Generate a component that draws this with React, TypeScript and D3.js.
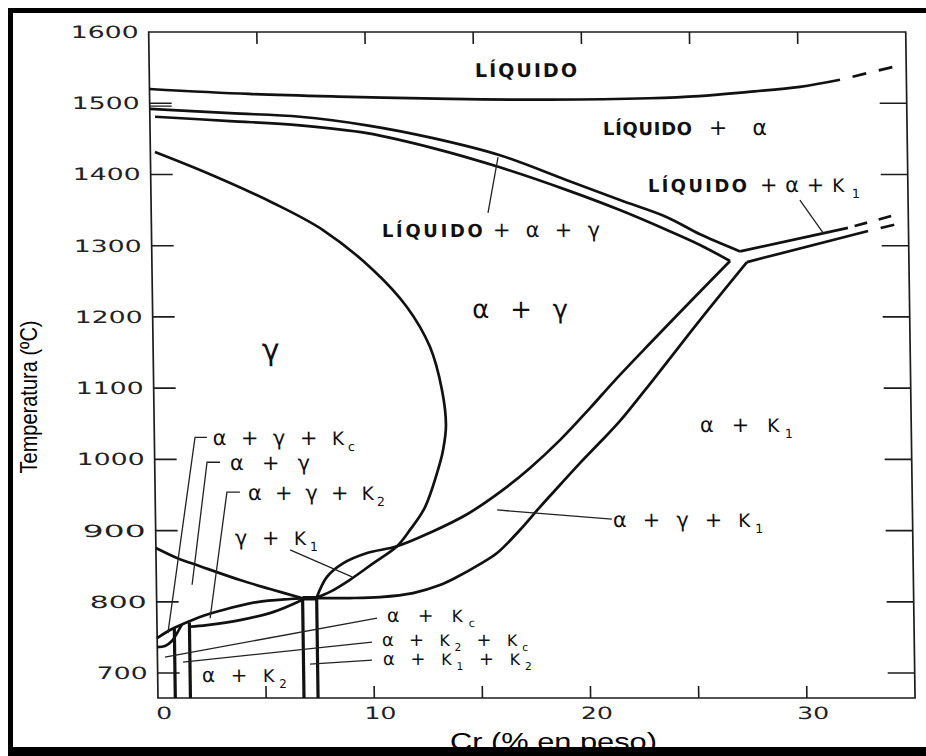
import React from "react";
import * as d3 from "d3";

type Pt = [number, number];

// ---- axes ----
const crDomain: [number, number] = [0, 35];
const tempDomain: [number, number] = [665, 1600];
const tempTicks = [700, 800, 900, 1000, 1100, 1200, 1300, 1400, 1500];
const tempTickLabels = [700, 800, 900, 1000, 1100, 1200, 1300, 1400, 1500, 1600];
const crTicks = [5, 10, 15, 20, 25, 30];
const crTickLabels = [0, 10, 20, 30];
const deltaMark = [1496];

// ---- phase boundaries, [Cr wt %, T °C] ----
const liquidus: Pt[] = [
  [0, 1520], [4.6, 1513], [9.25, 1509], [13.9, 1506], [18.5, 1505],
  [23.1, 1507], [25.4, 1510], [27.7, 1516], [30.07, 1523], [31.93, 1533],
];
const liquidusExt: Pt[] = [[31.93, 1533], [34.4, 1551]];

const solidusUpper: Pt[] = [
  [0, 1492], [3.71, 1486], [6.94, 1481], [10.03, 1469], [13.08, 1451],
  [16.16, 1427], [19.24, 1392], [21.68, 1364], [23.84, 1340], [25.36, 1316], [27.2, 1292],
];
const solidusLower: Pt[] = [
  [0.24, 1481], [3.7, 1475], [6.94, 1469], [10.03, 1458], [13.07, 1437],
  [16.15, 1410], [19.24, 1378], [21.67, 1350], [23.83, 1322], [25.35, 1301], [26.73, 1278.5],
];
const k1LiquidUpper: Pt[] = [[27.2, 1292], [32.2, 1325]];
const k1LiquidUpperExt: Pt[] = [[32.2, 1325], [34.5, 1344]];
const k1LiquidLower: Pt[] = [[27.51, 1277], [33.13, 1320.6]];
const k1LiquidLowerExt: Pt[] = [[33.13, 1320.6], [34.47, 1330.4]];

const alphaGammaK1Upper: Pt[] = [
  [26.73, 1278.5], [24.85, 1221], [22.98, 1163], [21.33, 1111], [20.16, 1072],
  [18.75, 1027], [17.35, 988], [15.94, 954], [14.41, 923], [12.68, 897],
  [11.15, 878], [9.76, 868.5], [8.64, 854], [7.89, 835], [7.4, 806],
];
const alphaK1Boundary: Pt[] = [
  [6.75, 805], [7.42, 805.3], [8.94, 805.3], [10.33, 806.7], [11.86, 812.3],
  [13.11, 823.6], [13.9, 834.8], [14.97, 853], [15.77, 868.5], [16.84, 900.8],
  [17.78, 933.1], [18.72, 964], [19.66, 994.8], [20.6, 1024], [21.54, 1054],
  [23.09, 1111.4], [25.3, 1195.6], [27.51, 1277],
];
const gammaLoop: Pt[] = [
  [0.21, 1431.5], [2.61, 1402], [5.64, 1360], [7.93, 1322], [10.22, 1266],
  [11.76, 1214], [12.8, 1158], [13.33, 1097], [13.49, 1048], [13.34, 1013],
  [13.19, 995], [12.47, 933], [11.76, 901], [11.15, 878], [10.03, 854],
  [8.95, 831], [8.02, 814], [7.4, 806],
];
const a3Line: Pt[] = [[0, 875.5], [0.97, 861.5], [2.03, 850], [3.87, 830.6], [5.25, 818], [6.75, 805]];
const eutectoidUpper: Pt[] = [
  [0, 749], [0.6, 760.4], [1.2, 768.8], [1.99, 778.6], [3.06, 788.5], [4.64, 799.7], [6.17, 804], [6.75, 805],
];
const eutectoidLower: Pt[] = [[1.5, 765], [2.31, 767.4], [3.84, 774.4], [5.37, 785.6], [6.75, 803]];
const kcArc: Pt[] = [[0, 736.5], [0.36, 738], [0.68, 745], [0.92, 756], [1.15, 768]];

// vertical carbide boundaries: Cr and top temperature
const verticalCr = [0.8, 1.5, 6.75, 7.4];
const verticalTop = [763, 771, 805, 805];

// leader lines
const leaders: Pt[][] = [
  [[2.43, 1031], [1.88, 1031], [0.5, 756]],
  [[3.02, 996], [2.42, 996], [1.65, 824]],
  [[3.92, 954], [3.32, 954], [2.46, 777]],
  [[6.2, 873], [9.05, 835]],
  [[0.35, 722.5], [10.18, 777]],
  [[1.18, 715.4], [9.93, 743.5]],
  [[7.05, 712.6], [9.92, 718.3]],
  [[15.8, 929], [21.1, 916]],
  [[15.57, 1346], [16.07, 1424.5]],
  [[30.0, 1364], [31.05, 1318]],
];

// phase field names
const phaseNames = [
  "LÍQUIDO", "LÍQUIDO", "+ α", "LÍQUIDO", "+α+K_1", "LÍQUIDO", "+ α + γ",
  "α + γ", "γ", "α + K_1", "α + γ + K_1", "α + γ + K_c", "α + γ", "α + γ + K_2",
  "γ + K_1", "α + K_c", "α + K_2 + K_c", "α + K_1 + K_2", "α + K_2",
];

// label placement (anchor in data units, width and size in px)
const labelLayout = [
  { cr: 15.06, t: 1537, w: 102, size: 19, bold: true },
  { cr: 20.94, t: 1455, w: 89, size: 18, bold: true },
  { cr: 25.84, t: 1455, w: 58, size: 22, bold: false },
  { cr: 22.98, t: 1375, w: 99, size: 18, bold: true },
  { cr: 28.16, t: 1375, w: 100, size: 21, bold: false },
  { cr: 10.65, t: 1312, w: 101, size: 18, bold: true },
  { cr: 15.79, t: 1312, w: 107, size: 21, bold: false },
  { cr: 14.77, t: 1198, w: 96, size: 26, bold: false },
  { cr: 5.03, t: 1140, w: 25, size: 30, bold: false },
  { cr: 25.23, t: 1038, w: 93, size: 21, bold: false },
  { cr: 21.15, t: 905, w: 150, size: 21, bold: false },
  { cr: 2.7, t: 1020, w: 142, size: 21, bold: false },
  { cr: 3.48, t: 985, w: 80, size: 21, bold: false },
  { cr: 4.29, t: 943, w: 137, size: 21, bold: false },
  { cr: 3.66, t: 880, w: 83, size: 21, bold: false },
  { cr: 10.64, t: 772, w: 88, size: 19, bold: false },
  { cr: 10.39, t: 738, w: 146, size: 18, bold: false },
  { cr: 10.42, t: 711, w: 149, size: 18, bold: false },
  { cr: 2.04, t: 687, w: 85, size: 20, bold: false },
];

const SANS = "'DejaVu Sans', Verdana, sans-serif";
const INK = "#111";

function richText(text: string, size: number) {
  const parts = text.split(/(_\w|K)/).filter((s) => s.length > 0);
  const drop = size * 0.28;
  let lowered = false;
  return parts.map((p, i) => {
    if (p.startsWith("_")) {
      const dy = lowered ? 0 : drop;
      lowered = true;
      return (
        <tspan key={i} fontSize={size * 0.6} dy={dy}>
          {p.slice(1)}
        </tspan>
      );
    }
    const dy = lowered ? -drop : 0;
    lowered = false;
    return (
      <tspan key={i} fontSize={p === "K" ? size * 0.88 : size} dy={dy}>
        {p}
      </tspan>
    );
  });
}

export default function App() {
  const W = 926;
  const H = 756;
  const x = d3.scaleLinear().domain(crDomain).range([158, 158 + 35 * 21.63]);
  const y = d3.scaleLinear().domain(tempDomain).range([698, 32]);
  const yBase = y(tempDomain[0]);
  const skewDeg = (Math.atan(0.014) * 180) / Math.PI;

  const smooth = d3
    .line<Pt>()
    .x((d) => x(d[0]))
    .y((d) => y(d[1]))
    .curve(d3.curveCatmullRom.alpha(0.5));
  const straight = d3
    .line<Pt>()
    .x((d) => x(d[0]))
    .y((d) => y(d[1]));

  const smoothCurves = [
    liquidus, solidusUpper, solidusLower, alphaGammaK1Upper, alphaK1Boundary,
    gammaLoop, a3Line, eutectoidUpper, eutectoidLower, kcArc,
  ];
  const straightCurves = [k1LiquidUpper, k1LiquidLower];
  const dashedCurves = [
    { pts: liquidusExt, dash: "14 13", off: 14 },
    { pts: k1LiquidUpperExt, dash: "13 12", off: 18 },
    { pts: k1LiquidLowerExt, dash: "14 13", off: 14 },
  ];

  const x0 = x(crDomain[0]);
  const x1 = x(crDomain[1]);
  const yTop = y(tempDomain[1]);
  const tickLabelWidth = (v: number) =>
    v >= 1000 ? 68 : v === 900 ? 63 : v === 800 ? 57 : 51;

  return (
    <svg
      width={W}
      height={H}
      style={{ position: "absolute", left: 0, top: 0, background: "#fff" }}
    >
      <rect width={W} height={H} fill="#fff" />
      <g transform={`translate(0,${yBase}) skewX(${skewDeg}) translate(0,${-yBase})`}>
        {/* plot frame */}
        <rect
          x={x0}
          y={yTop}
          width={x1 - x0}
          height={yBase - yTop}
          fill="none"
          stroke="#1c1c1c"
          strokeWidth={1.7}
        />
        {tempTicks.map((t) => (
          <g key={"t" + t} stroke="#1c1c1c" strokeWidth={1.6}>
            <line x1={x0} x2={x0 + 22} y1={y(t)} y2={y(t)} />
            <line x1={x1 - 27} x2={x1} y1={y(t)} y2={y(t)} />
          </g>
        ))}
        {deltaMark.map((t) => (
          <line key={"d" + t} x1={x0} x2={x0 + 22} y1={y(t)} y2={y(t)} stroke="#1c1c1c" strokeWidth={1.4} />
        ))}
        {crTicks.map((c) => (
          <g key={"c" + c} stroke="#1c1c1c" strokeWidth={1.6}>
            <line x1={x(c)} x2={x(c)} y1={yTop} y2={yTop + 12} />
            <line x1={x(c)} x2={x(c)} y1={yBase} y2={yBase - 12} />
          </g>
        ))}
        {tempTickLabels.map((t) => (
          <text
            key={"tl" + t}
            x={x0 - 10}
            y={y(t) + 6}
            textAnchor="end"
            fontFamily={SANS}
            fontSize={17}
            fill="#222"
            textLength={tickLabelWidth(t)}
            lengthAdjust="spacingAndGlyphs"
          >
            {t}
          </text>
        ))}
        {crTickLabels.map((c) => (
          <text
            key={"cl" + c}
            x={x(c) + 6}
            y={719}
            textAnchor="middle"
            fontFamily={SANS}
            fontSize={17}
            fill="#222"
            textLength={c === 0 ? 16 : 32}
            lengthAdjust="spacingAndGlyphs"
          >
            {c}
          </text>
        ))}

        {/* phase boundaries */}
        {smoothCurves.map((pts, i) => (
          <path key={"s" + i} d={smooth(pts) || ""} fill="none" stroke={INK} strokeWidth={2.7} strokeLinejoin="round" />
        ))}
        {straightCurves.map((pts, i) => (
          <path key={"l" + i} d={straight(pts) || ""} fill="none" stroke={INK} strokeWidth={2.7} />
        ))}
        {dashedCurves.map((d, i) => (
          <path
            key={"dl" + i}
            d={straight(d.pts) || ""}
            fill="none"
            stroke={INK}
            strokeWidth={2.7}
            strokeDasharray={d.dash}
            strokeDashoffset={d.off}
          />
        ))}
        {verticalCr.map((c, i) => (
          <line
            key={"v" + i}
            x1={x(c)}
            x2={x(c)}
            y1={y(verticalTop[i])}
            y2={yBase}
            stroke={INK}
            strokeWidth={3.2}
          />
        ))}
        {/* junction blob */}
        <path d={straight([[6.75, 805], [7.4, 805]]) || ""} stroke={INK} strokeWidth={4.5} />

        {/* leaders */}
        {leaders.map((pts, i) => (
          <path key={"ld" + i} d={straight(pts) || ""} fill="none" stroke="#222" strokeWidth={1.3} />
        ))}

        {/* phase labels */}
        {phaseNames.map((name, i) => {
          const L = labelLayout[i];
          return (
            <text
              key={"pl" + i}
              x={x(L.cr)}
              y={y(L.t)}
              fontFamily={SANS}
              fontWeight={L.bold ? "bold" : "normal"}
              fontSize={L.size}
              fill={INK}
              textLength={L.w}
              lengthAdjust="spacing"
              style={{ whiteSpace: "pre" }}
            >
              {richText(name, L.size)}
            </text>
          );
        })}
      </g>

      {/* axis titles */}
      <text
        transform="translate(37,397) rotate(-90)"
        textAnchor="middle"
        fontFamily="'Liberation Sans Narrow', 'Liberation Sans', Arial, sans-serif"
        fontSize={24}
        fill="#000"
        textLength={153}
        lengthAdjust="spacingAndGlyphs"
      >
        Temperatura (ºC)
      </text>
      <text
        x={450}
        y={750}
        fontFamily="'Liberation Sans', Arial, sans-serif"
        fontSize={23}
        fill="#000"
        textLength={207}
        lengthAdjust="spacingAndGlyphs"
      >
        Cr (% en peso)
      </text>

      {/* outer border */}
      <g fill="#000">
        <rect x={8} y={8} width={5} height={H - 8} />
        <rect x={8} y={8} width={W - 8} height={5} />
        <rect x={8} y={747} width={W - 8} height={H - 747} />
      </g>
    </svg>
  );
}
